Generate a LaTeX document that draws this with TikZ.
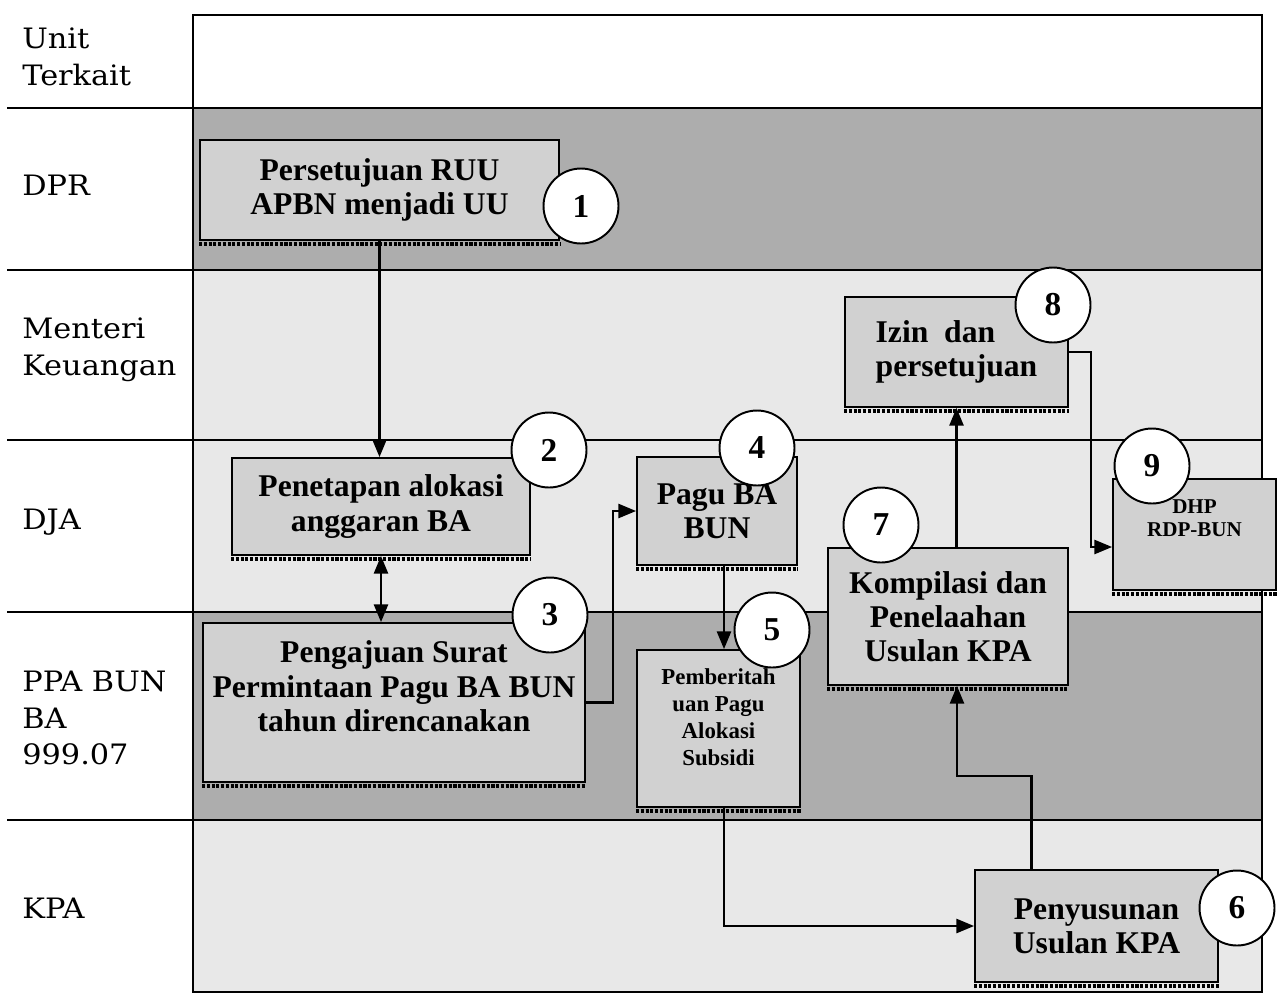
\documentclass[tikz,border=0pt]{standalone}
\usepackage{fontspec}
\setmainfont{Liberation Serif}
\newfontfamily\lanefont[FakeStretch=1.08]{DejaVu Serif}
\usetikzlibrary{arrows.meta, positioning}

\colorlet{darkband}{black!32}
\colorlet{lightband}{black!9}
\colorlet{boxfill}{black!18}

\begin{document}
\begin{tikzpicture}[x=0.02cm, y=-0.02cm, >={Triangle[length=10pt,width=8pt]},
    proc box/.style={draw, line width=1.1pt, fill=boxfill, inner sep=2pt, align=center, font=\bfseries\fontsize{18}{19.5}\selectfont},
    small box/.style={proc box, font=\bfseries\fontsize{13}{15.3}\selectfont},
    num node/.style={circle, draw, line width=1.1pt, fill=white, minimum size=1.5cm, inner sep=0pt, font=\bfseries\fontsize{19}{19}\selectfont},
    lane label/.style={anchor=west, align=left, inner sep=0pt, font=\lanefont\fontsize{16}{21}\selectfont},
    lane line/.style={line width=0.8pt},
    bar/.style={line width=2.3pt, dash pattern=on 1.8pt off 0.9pt},
    flow/.style={->, line width=1.2pt}]

\useasboundingbox (0,0) rectangle (1278,995);

% lanes
\fill[darkband] (193,108) rectangle (1262,270);
\fill[lightband] (193,270) rectangle (1262,612);
\fill[darkband] (193,612) rectangle (1262,820);
\fill[lightband] (193,820) rectangle (1262,992);
\draw[lane line] (193,15) rectangle (1262,992);
\foreach \y in {108,270,440,612,820}
  \draw[lane line] (7,\y) -- (1262,\y);

\node[lane label] (unit) at (22,57)  {Unit\\Terkait};
\node[lane label] (dpr)  at (22,185) {DPR};
\node[lane label] (mk)   at (22,350) {Menteri\\Keuangan};
\node[lane label] (dja)  at (22,522) {DJA};
\node[lane label] (ppa)  at (22,718) {PPA BUN\\BA\\999.07};
\node[lane label] (kpa)  at (22,908) {KPA};

% steps
\node[proc box, minimum width=7.18cm, minimum height=2cm]    (b1) at (379.5,190)  {Persetujuan RUU\\APBN menjadi UU};
\node[proc box, minimum width=5.96cm, minimum height=1.94cm] (b2) at (381,506.5)  {Penetapan alokasi\\anggaran BA};
\node[proc box, minimum width=7.64cm, minimum height=3.18cm, text depth=0.65cm] (b3) at (394,702.5) {Pengajuan Surat\\Permintaan Pagu BA BUN\\tahun direncanakan};
\node[proc box, minimum width=3.2cm, minimum height=2.16cm]  (b4) at (717,511)    {Pagu BA\\BUN};
\node[small box, minimum width=3.26cm, minimum height=3.14cm, text depth=0.45cm] (b5) at (718.5,728.5) {Pemberitah\\uan Pagu\\Alokasi\\Subsidi};
\node[proc box, minimum width=4.86cm, minimum height=2.24cm] (b6) at (1096.5,926) {Penyusunan\\Usulan KPA};
\node[proc box, minimum width=4.8cm, minimum height=2.74cm]  (b7) at (948,616.5)  {Kompilasi dan\\Penelaahan\\Usulan KPA};
\node[proc box, minimum width=4.46cm, minimum height=2.2cm, align=left] (b8) at (956.5,352) {Izin~~dan\\persetujuan};
\node[small box, minimum width=3.26cm, minimum height=2.22cm, text depth=0.65cm, font=\bfseries\fontsize{12}{13}\selectfont] (b9) at (1194.5,534.5) {DHP\\RDP-BUN};

\foreach \b in {b1,b2,b3,b4,b5,b6,b7,b8,b9}
  \draw[bar] ([yshift=-1.7pt]\b.south west) -- ([yshift=-1.7pt]\b.south east);

% flow
\draw[flow] (b1.south) -- (b1.south |- b2.north);
\draw[flow, <->] (b2.south) -- (b2.south |- b3.north);
\draw[flow] (b3.east) -- ++(27,0) |- (b4.west);
\draw[flow] ([xshift=0.14cm]b4.south) -- ([xshift=0.14cm]b4.south |- b5.north);
\draw[flow] ([xshift=0.11cm]b5.south) |- (b6.west);
\draw[flow] ([xshift=-1.3cm]b6.north) -- ++(0,-93) -| ([xshift=0.18cm]b7.south);
\draw[flow] (b7.north -| b8.south) -- (b8.south);
\draw[flow] (b8.east) -- ++(22,0) |- ([yshift=-0.25cm]b9.west);

% numbers
\node[num node] (n1) at (581,206)  {1};
\node[num node] (n2) at (549,450)  {2};
\node[num node] (n3) at (550,615)  {3};
\node[num node] (n4) at (757,448)  {4};
\node[num node] (n5) at (772,630)  {5};
\node[num node] (n6) at (1237,908) {6};
\node[num node] (n7) at (881,525)  {7};
\node[num node] (n8) at (1053,305) {8};
\node[num node] (n9) at (1152,466) {9};

\end{tikzpicture}
\end{document}
